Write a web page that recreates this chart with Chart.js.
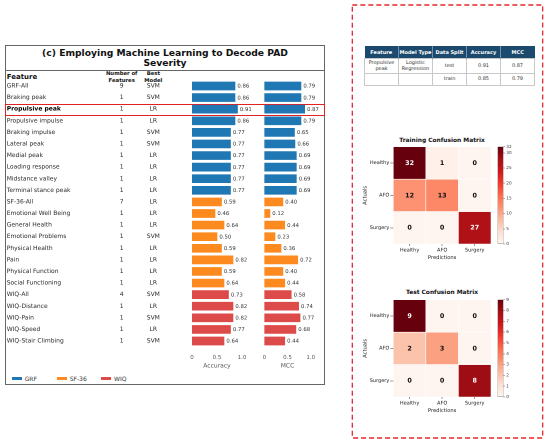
<!DOCTYPE html>
<html><head><meta charset="utf-8">
<script src="https://cdn.jsdelivr.net/npm/chart.js@4.4.0/dist/chart.umd.min.js"></script>
<style>
html,body{margin:0;padding:0;background:#fff;}
body{width:550px;height:443px;position:relative;overflow:hidden;font-family:"DejaVu Sans",sans-serif;color:#222;}
.abs{position:absolute;}
canvas{position:absolute;}
table.res{position:absolute;left:364px;top:46px;width:170px;border-collapse:collapse;table-layout:fixed;font-size:5px;}
table.res th{background:#1c4a6e;color:#fff;font-weight:bold;height:12px;padding:0;border-left:0.6px solid #6f8fab;text-align:center;}
table.res th:first-child{border-left:none;}
table.res td{border:0.6px solid #c8c8c8;color:#333;text-align:center;padding:0;line-height:5.8px;}
</style></head><body>

<div class="abs" style="left:5px;top:45px;width:320px;height:340px;box-sizing:border-box;border:1.3px solid #666;"></div>
<div class="abs" style="left:5px;top:48px;width:320px;text-align:center;font-weight:bold;font-size:9.2px;line-height:10px;color:#111;">(c) Employing Machine Learning to Decode PAD<br>Severity</div>
<div class="abs" style="left:5px;top:69.5px;width:320px;border-top:1px solid #666;"></div>
<div class="abs" style="left:6.7px;top:72.5px;font-weight:bold;font-size:7px;line-height:8.4px;color:#111;">Feature</div>
<div class="abs" style="left:101.7px;top:70px;width:40px;text-align:center;font-weight:bold;font-size:5.3px;line-height:6.7px;color:#111;">Number of<br>Features</div>
<div class="abs" style="left:133.3px;top:70px;width:40px;text-align:center;font-weight:bold;font-size:5.3px;line-height:6.7px;color:#111;">Best<br>Model</div>
<div id="legend" class="abs" style="left:0;top:374px;width:330px;height:9px;"></div>

<svg class="abs" style="left:0;top:0;pointer-events:none;" width="550" height="443">
  <rect x="352.3" y="5" width="190.4" height="433" fill="none" stroke="#e8262b" stroke-width="1.3" stroke-dasharray="5 3"></rect>
</svg>
<table class="res" id="restable"></table>
<div class="abs" style="left:382px;top:136.5px;width:120px;text-align:center;font-weight:bold;font-size:5.9px;line-height:7px;color:#111;">Training Confusion Matrix</div>
<div class="abs" style="left:382px;top:289.2px;width:120px;text-align:center;font-weight:bold;font-size:5.9px;line-height:7px;color:#111;">Test Confusion Matrix</div>

<script>
// ---------------- data ----------------
const features = ['GRF-All','Braking peak','Propulsive peak','Propulsive impulse','Braking impulse','Lateral peak','Medial peak','Loading response','Midstance valley','Terminal stance peak','SF-36-All','Emotional Well Being','General Health','Emotional Problems','Physical Health','Pain','Physical Function','Social Functioning','WIQ-All','WIQ-Distance','WIQ-Pain','WIQ-Speed','WIQ-Stair Climbing'];
const numFeatures = [9,1,1,1,1,1,1,1,1,1,7,1,1,1,1,1,1,1,4,1,1,1,1];
const bestModel = ['SVM','SVM','LR','LR','SVM','SVM','LR','LR','LR','LR','LR','LR','LR','SVM','LR','LR','LR','LR','SVM','LR','SVM','LR','SVM'];
const accuracy = [0.86,0.86,0.91,0.86,0.77,0.77,0.77,0.77,0.77,0.77,0.59,0.46,0.64,0.50,0.59,0.82,0.59,0.64,0.73,0.82,0.82,0.77,0.64];
const mcc = [0.79,0.79,0.87,0.79,0.65,0.66,0.69,0.69,0.69,0.69,0.40,0.12,0.44,0.23,0.36,0.72,0.40,0.44,0.58,0.74,0.77,0.68,0.44];
const featureGroup = ['GRF','GRF','GRF','GRF','GRF','GRF','GRF','GRF','GRF','GRF','SF-36','SF-36','SF-36','SF-36','SF-36','SF-36','SF-36','SF-36','WIQ','WIQ','WIQ','WIQ','WIQ'];
const groupNames = ['GRF','SF-36','WIQ'];
const highlightFeature = 'Propulsive peak';
const metricTickValues = [0, 0.5, 1.0];
const metricTickLabels = ['0','0.5','1.0'];

const tableHeader = ['Feature','Model Type','Data Split','Accuracy','MCC'];
const tableRows = [['Propulsive<br>peak','Logistic<br>Regression','test','0.91','0.87'],['','','train','0.85','0.79']];

const matrixClasses = ['Healthy','AFO','Surgery'];
const trainMatrix = [[32,1,0],[12,13,0],[0,0,27]];
const testMatrix = [[9,0,0],[2,3,0],[0,0,8]];
const trainColorbarStep = 5;
const testColorbarStep = 1;

// ---------------- styles ----------------
const FAM = '"DejaVu Sans", sans-serif';
const groupColors = {'GRF':'#1f77b4','SF-36':'#fd8a1f','WIQ':'#dc4a4a'};
const redsStops = ['#fff5f0','#fee0d2','#fcbba1','#fc9272','#fb6a4a','#ef3b2c','#cb181d','#a50f15','#67000d'];

function hexToRgb(h){return [parseInt(h.slice(1,3),16),parseInt(h.slice(3,5),16),parseInt(h.slice(5,7),16)];}
function reds(t){
  t=Math.max(0,Math.min(1,t));
  const p=t*8, i=Math.min(7,Math.floor(p)), f=p-i;
  const a=hexToRgb(redsStops[i]), b=hexToRgb(redsStops[i+1]);
  return 'rgb('+a.map((v,k)=>Math.round(v+(b[k]-v)*f)).join(',')+')';
}
function makeCanvas(left, top, w, h){
  const c=document.createElement('canvas');
  c.width=w; c.height=h;
  c.style.left=left+'px'; c.style.top=top+'px';
  c.style.width=w+'px'; c.style.height=h+'px';
  document.body.appendChild(c);
  return c;
}

// ---------------- table ----------------
(function(){
  const t=document.getElementById('restable');
  let html='<colgroup>'+tableHeader.map(()=>'<col style="width:34px">').join('')+'</colgroup>';
  html+='<tr>'+tableHeader.map(h=>'<th>'+h+'</th>').join('')+'</tr>';
  const hs=[14.7,12.3];
  tableRows.forEach((r,i)=>{html+='<tr style="height:'+hs[i]+'px">'+r.map(c=>'<td>'+c+'</td>').join('')+'</tr>';});
  t.innerHTML=html;
})();

// ---------------- legend ----------------
(function(){
  const lg=document.getElementById('legend');
  const xs=[11.7,56.7,101];
  groupNames.forEach((g,i)=>{
    const line=document.createElement('div');
    line.className='abs';
    line.style.cssText='left:'+xs[i]+'px;top:3.3px;width:10px;height:2.4px;background:'+groupColors[g]+';';
    lg.appendChild(line);
    const tx=document.createElement('div');
    tx.className='abs';
    tx.style.cssText='left:'+(xs[i]+13)+'px;top:0.8px;font-size:6px;line-height:7px;color:#333;';
    tx.textContent=g;
    lg.appendChild(tx);
  });
})();

// highlight row rectangle
(function(){
  const d=document.createElement('div');
  d.className='abs';
  d.style.cssText='left:5px;top:103.8px;width:320px;height:12px;box-sizing:border-box;border:1.3px solid #e02222;';
  document.body.appendChild(d);
})();

// ---------------- bar charts ----------------
const valueLabelPlugin = {
  id:'valueLabels',
  afterDatasetsDraw(chart){
    const ctx=chart.ctx, meta=chart.getDatasetMeta(0), vals=chart.data.datasets[0].data;
    ctx.save();
    ctx.font='5.3px '+FAM; ctx.fillStyle='#333'; ctx.textAlign='left'; ctx.textBaseline='middle';
    meta.data.forEach((bar,i)=>{ ctx.fillText(vals[i].toFixed(2), bar.x+2.4, bar.y+0.3); });
    ctx.restore();
  }
};
const featureTextPlugin = {
  id:'featureText',
  afterDraw(chart){
    const ctx=chart.ctx, ys=chart.scales.y;
    ctx.save();
    ctx.fillStyle='#262626'; ctx.textBaseline='middle';
    features.forEach((f,i)=>{
      const y=ys.getPixelForValue(i);
      const hl = f===highlightFeature;
      ctx.font=(hl?'bold ':'')+'6px '+FAM;
      ctx.fillStyle = hl ? '#000' : '#2a2a2a';
      ctx.textAlign='left';
      ctx.fillText(f, 1.7, y);
      ctx.font='6px '+FAM; ctx.fillStyle='#2a2a2a';
      ctx.textAlign='center';
      ctx.fillText(String(numFeatures[i]), 116.7, y);
      ctx.fillText(bestModel[i], 148.3, y);
    });
    ctx.restore();
  }
};

function metricChart(left, width, padLeft, padRight, values, title, extraPlugins){
  const cv=makeCanvas(left, 75, width, 300);
  return new Chart(cv,{
    type:'bar',
    data:{labels:features, datasets:[{data:values, backgroundColor:featureGroup.map(g=>groupColors[g]), barThickness:8, borderWidth:0}]},
    options:{
      indexAxis:'y', responsive:false, animation:false, devicePixelRatio:2,
      layout:{padding:{left:padLeft,right:padRight,top:5.2,bottom:0}},
      plugins:{legend:{display:false},tooltip:{enabled:false},title:{display:false}},
      scales:{
        y:{display:false},
        x:{min:0,max:1,
          afterBuildTicks:s=>{s.ticks=metricTickValues.map(v=>({value:v}));},
          afterFit:s=>{s.height=28.2;},
          ticks:{font:{size:5.5,family:FAM},color:'#555',padding:7.6,maxRotation:0,callback:(v,i)=>metricTickLabels[i]},
          grid:{display:false,drawTicks:false},
          border:{display:false},
          title:{display:true,text:title,font:{size:6,family:FAM},color:'#555',padding:{top:0,bottom:5.7}}
        }
      }
    },
    plugins:[valueLabelPlugin].concat(extraPlugins||[])
  });
}
metricChart(5, 250, 187, 13, accuracy, 'Accuracy', [featureTextPlugin]);
metricChart(255, 70, 5.7, 14.3, mcc, 'MCC');

// ---------------- confusion matrices ----------------
const annotPlugin = {
  id:'annot',
  afterDatasetsDraw(chart){
    const m=chart.options.plugins.annot.matrix, mx=Math.max(...m.flat());
    const ctx=chart.ctx;
    ctx.save();
    ctx.font='bold 6.4px '+FAM; ctx.textAlign='center'; ctx.textBaseline='middle';
    m.forEach((row,i)=>{
      const meta=chart.getDatasetMeta(i);
      row.forEach((v,j)=>{
        const b=meta.data[j];
        ctx.fillStyle = v/mx>0.6 ? '#fff' : '#111';
        ctx.fillText(String(v), b.x, (b.y+b.base)/2+0.3);
      });
    });
    ctx.restore();
  }
};

function matrixChart(top, matrix){
  const mx=Math.max(...matrix.flat());
  const cv=makeCanvas(355, top, 145, 130);
  new Chart(cv,{
    type:'bar',
    data:{labels:matrixClasses, datasets:matrix.map((row,i)=>({
      data:row.map(()=>[i,i+1]),
      backgroundColor:row.map(v=>reds(v/mx)),
      borderColor:'#ffffff', borderWidth:0.6, borderSkipped:false,
      barPercentage:1, categoryPercentage:1, grouped:false
    }))},
    options:{
      responsive:false, animation:false, devicePixelRatio:2,
      layout:{padding:{left:0,right:9,top:11.7,bottom:0}},
      plugins:{legend:{display:false},tooltip:{enabled:false},annot:{matrix:matrix}},
      scales:{
        x:{type:'category',
          afterFit:s=>{s.height=21;},
          grid:{offset:false,drawOnChartArea:false,drawTicks:true,tickLength:2,color:'#333',lineWidth:0.5},
          border:{display:false},
          ticks:{font:{size:5,family:FAM},color:'#222',padding:1,maxRotation:0},
          title:{display:true,text:'Predictions',font:{size:5.2,family:FAM},color:'#222',padding:{top:0,bottom:4.2}}
        },
        y:{type:'linear',min:0,max:matrixClasses.length,reverse:true,
          afterBuildTicks:s=>{s.ticks=matrixClasses.map((c,i)=>({value:i+0.5}));},
          afterFit:s=>{s.width=38.3;},
          grid:{drawOnChartArea:false,drawTicks:true,tickLength:3,color:'#333',lineWidth:0.5},
          border:{display:false},
          ticks:{font:{size:5,family:FAM},color:'#222',padding:1,callback:(v,i)=>matrixClasses[i]},
          title:{display:true,text:'Actuals',font:{size:5.2,family:FAM},color:'#222',padding:{top:6.9,bottom:0}}
        }
      }
    },
    plugins:[annotPlugin]
  });
}

function colorbarChart(top, matrix, step){
  const mx=Math.max(...matrix.flat());
  const cv=makeCanvas(490, top, 35, 130);
  new Chart(cv,{
    type:'bar',
    data:{labels:[''], datasets:[{
      data:[[0,mx]],
      backgroundColor:(ctx)=>{
        const ch=ctx.chart, ca=ch.chartArea;
        if(!ca) return redsStops[4];
        const g=ch.ctx.createLinearGradient(0,ca.bottom,0,ca.top);
        redsStops.forEach((c,k)=>g.addColorStop(k/8,c));
        return g;
      },
      borderColor:'#666', borderWidth:0.5, borderSkipped:false,
      barPercentage:1, categoryPercentage:1
    }]},
    options:{
      responsive:false, animation:false, devicePixelRatio:2,
      layout:{padding:{left:7.7,right:0,top:11.7,bottom:21}},
      plugins:{legend:{display:false},tooltip:{enabled:false}},
      scales:{
        x:{display:false},
        y:{position:'right',min:0,max:mx,
          afterFit:s=>{s.width=21.7;},
          ticks:{stepSize:step,font:{size:4.2,family:FAM},color:'#333',padding:1.5},
          grid:{drawOnChartArea:false,drawTicks:true,tickLength:1.5,color:'#333',lineWidth:0.5},
          border:{display:false}
        }
      }
    }
  });
}

matrixChart(135, trainMatrix);
colorbarChart(135, trainMatrix, trainColorbarStep);
matrixChart(287.6, testMatrix);
colorbarChart(287.6, testMatrix, testColorbarStep);
</script>
</body></html>
